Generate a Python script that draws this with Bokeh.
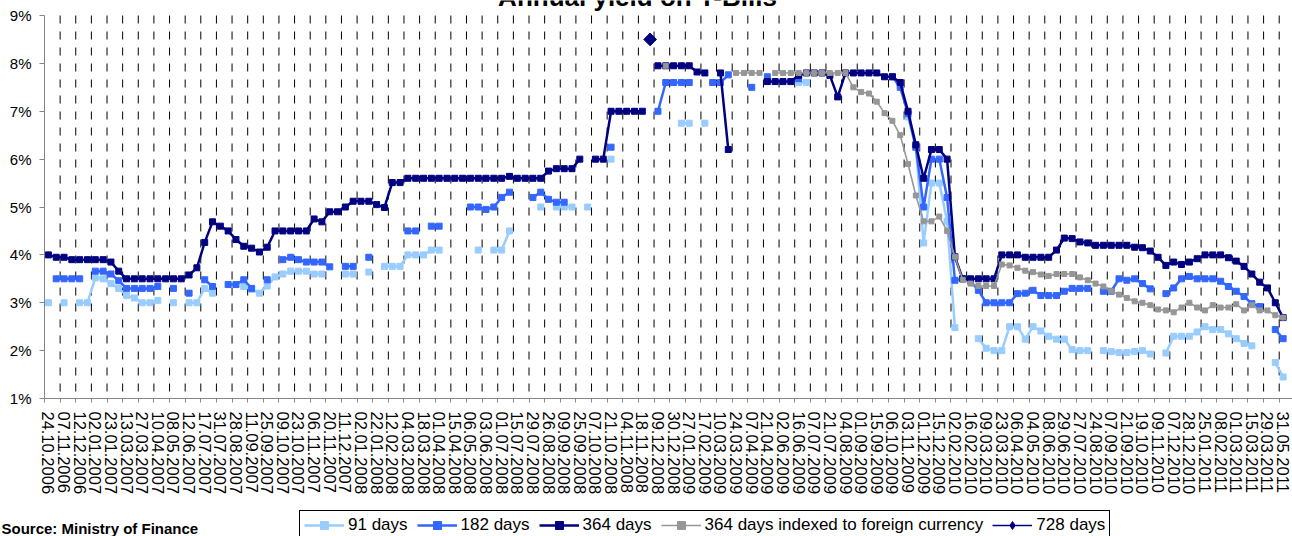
import numpy as np
from bokeh.plotting import figure
from bokeh.layouts import column
from bokeh.models import (Range1d, FixedTicker, Legend, LegendItem, Label,
                          PrintfTickFormatter, ColumnDataSource)
from bokeh.embed import file_html
from bokeh.resources import INLINE

# ---------------- data ----------------
tick_labels = [
    "24.10.2006", "07.11.2006", "12.12.2006", "02.01.2007", "23.01.2007", "13.03.2007",
    "27.03.2007", "10.04.2007", "08.05.2007", "12.06.2007", "17.07.2007", "31.07.2007",
    "28.08.2007", "11.09.2007", "25.09.2007", "09.10.2007", "23.10.2007", "06.11.2007",
    "20.11.2007", "11.12.2007", "02.01.2008", "22.01.2008", "12.02.2008", "04.03.2008",
    "18.03.2008", "01.04.2008", "15.04.2008", "06.05.2008", "03.06.2008", "01.07.2008",
    "15.07.2008", "29.07.2008", "26.08.2008", "09.09.2008", "25.09.2008", "07.10.2008",
    "21.10.2008", "04.11.2008", "18.11.2008", "09.12.2008", "30.12.2008", "27.01.2009",
    "17.02.2009", "10.03.2009", "24.03.2009", "07.04.2009", "21.04.2009", "02.06.2009",
    "16.06.2009", "07.07.2009", "21.07.2009", "04.08.2009", "01.09.2009", "15.09.2009",
    "06.10.2009", "03.11.2009", "01.12.2009", "15.12.2009", "02.02.2010", "16.02.2010",
    "09.03.2010", "23.03.2010", "06.04.2010", "04.05.2010", "08.06.2010", "29.06.2010",
    "27.07.2010", "24.08.2010", "07.09.2010", "21.09.2010", "19.10.2010", "09.11.2010",
    "07.12.2010", "28.12.2010", "25.01.2011", "08.02.2011", "01.03.2011", "15.03.2011",
    "29.03.2011", "31.05.2011",
]

t91 = [
    3.0, None, 3.0, None, 3.0, 3.0, 3.52, 3.5, 3.4, 3.3,
    3.15, 3.1, 3.0, 3.0, 3.05, None, 3.0, None, 3.0, 3.0,
    3.3, 3.2, None, None, None, 3.34, 3.28, 3.2, 3.35, 3.54,
    3.6, 3.66, 3.66, 3.66, 3.6, 3.6, None, None, 3.6, 3.6,
    None, 3.64, None, 3.76, 3.76, 3.76, 4.0, 4.0, 4.0, 4.1,
    4.1, None, None, None, None, 4.1, None, 4.1, 4.1, 4.5,
    None, None, None, 5.0, None, 5.0, 5.0, 5.0, None, 5.0,
    None, None, 6.0, None, None, None, None, None, None, None,
    None, 6.75, 6.75, None, 6.75, None, None, None, None, None,
    None, None, None, None, None, None, 7.6, 7.6, None, None,
    None, None, None, None, None, None, None, None, None, None,
    6.88, 6.25, 4.25, 5.5, 5.5, 4.7, 2.48, None, None, 2.25,
    2.05, 2.0, 2.0, 2.5, 2.5, 2.24, 2.5, 2.41, 2.3, 2.24,
    2.24, 2.02, 2.0, 2.0, None, 2.0, 1.98, 1.96, 1.96, 1.98,
    2.0, 1.93, None, 1.95, 2.3, 2.3, 2.3, 2.39, 2.5, 2.44,
    2.44, 2.35, 2.25, 2.15, 2.1, None, None, 1.75, 1.45,
]

t182 = [
    None, 3.5, 3.5, 3.5, 3.5, None, 3.66, 3.66, 3.6, 3.46,
    3.3, 3.3, 3.3, 3.3, 3.34, None, 3.3, None, 3.2, None,
    3.48, 3.34, None, 3.38, 3.38, 3.48, 3.3, None, 3.48, None,
    3.9, 3.95, 3.9, 3.85, 3.85, 3.85, 3.75, None, 3.76, 3.76,
    None, 3.95, None, None, None, None, 4.5, 4.5, None, 4.6,
    4.6, None, None, None, 5.0, 5.0, 4.95, 5.0, 5.2, 5.31,
    None, None, 5.2, 5.31, 5.16, 5.1, 5.1, None, None, None,
    None, None, 6.25, None, None, None, None, None, 7.0, 7.6,
    7.6, 7.6, 7.6, None, None, 7.6, 7.6, 7.76, None, None,
    7.5, None, 7.72, None, None, None, 7.68, None, None, None,
    None, None, None, None, None, None, None, None, 7.72, 7.5,
    6.95, 6.25, 5.0, 6.0, 6.0, 5.2, 3.47, 3.5, 3.45, 3.26,
    3.0, 3.0, 3.0, 3.0, 3.19, 3.2, 3.26, 3.15, 3.15, 3.15,
    3.24, 3.3, 3.3, 3.3, None, 3.24, 3.24, 3.5, 3.47, 3.5,
    3.4, 3.29, None, 3.19, 3.31, 3.5, 3.55, 3.5, 3.5, 3.5,
    3.45, 3.34, 3.24, 3.13, 2.98, 2.92, None, 2.44, 2.25,
]

t364 = [
    4.0, 3.95, 3.95, 3.9, 3.9, 3.9, 3.9, 3.9, 3.85, 3.66,
    3.5, 3.5, 3.5, 3.5, 3.5, 3.5, 3.5, 3.5, 3.58, 3.73,
    4.26, 4.69, 4.6, 4.5, 4.32, 4.18, 4.14, 4.06, 4.16, 4.5,
    4.5, 4.5, 4.5, 4.5, 4.75, 4.69, 4.9, 4.9, 5.0, 5.12,
    5.12, 5.12, 5.05, 4.99, 5.51, 5.51, 5.6, 5.6, 5.6, 5.6,
    5.6, 5.6, 5.6, 5.6, 5.6, 5.6, 5.6, 5.6, 5.6, 5.64,
    5.6, 5.6, 5.6, 5.6, 5.75, 5.8, 5.8, 5.8, 6.0, None,
    6.0, 6.0, 7.0, 7.0, 7.0, 7.0, 7.0, None, 7.95, 7.95,
    7.95, 7.95, 7.95, 7.82, 7.8, None, 7.8, 6.2, None, None,
    None, None, 7.62, 7.62, 7.62, 7.62, 7.75, 7.8, 7.8, 7.8,
    7.75, 7.3, 7.8, 7.8, 7.8, 7.8, 7.8, 7.72, 7.72, 7.6,
    7.0, 6.3, 5.6, 6.2, 6.2, 6.0, 3.96, 3.5, 3.5, 3.5,
    3.5, 3.5, 4.0, 4.0, 4.0, 3.95, 3.95, 3.95, 3.95, 4.1,
    4.35, 4.34, 4.27, 4.25, 4.2, 4.2, 4.2, 4.2, 4.2, 4.16,
    4.15, 4.08, 3.95, 3.78, 3.85, 3.8, 3.85, 3.92, 4.0, 4.0,
    4.0, 3.94, 3.87, 3.76, 3.6, 3.43, 3.31, 3.0, 2.69,
]

t364fx = [None] * 79 + [
    7.95,
    None, None, None, None, None, None, None, None, 7.8, 7.8,
    7.8, 7.8, None, 7.8, 7.8, 7.8, 7.8, 7.8, 7.8, 7.8,
    7.8, 7.8, 7.8, 7.5, 7.4, 7.37, 7.2, 6.96, 6.8, 6.5,
    5.9, 5.24, 4.7, 4.7, 4.8, 4.5, 3.96, 3.48, 3.4, 3.35,
    3.35, 3.35, 3.8, 3.78, 3.73, 3.67, 3.64, 3.59, 3.56, 3.6,
    3.6, 3.6, 3.53, 3.47, 3.4, 3.34, 3.24, 3.17, 3.1, 3.03,
    3.0, 2.95, 2.86, 2.84, 2.8, 2.9, 3.0, 2.9, 2.84, 2.95,
    2.9, 2.9, 2.97, 2.84, 2.95, 2.84, 2.84, 2.74, 2.69,
]

t728_index = [77]
t728_value = [8.5]

series_names = ["91 days", "182 days", "364 days",
                "364 days indexed to foreign currency", "728 days"]
y_ticks = [1, 2, 3, 4, 5, 6, 7, 8, 9]

# ---------------- styles ----------------
FONT = "Liberation Sans"
AX = "#868686"
STYLES = [
    dict(color="#99CCFF", lw=2.5, size=6, marker="square", angle=0.0, lmarker="square", lsize=6),
    dict(color="#3366FF", lw=2.5, size=6, marker="square", angle=0.0, lmarker="square", lsize=6),
    dict(color="#000080", lw=2.5, size=6, marker="square", angle=0.0, lmarker="square", lsize=6),
    dict(color="#969696", lw=1.6, size=5, marker="square", angle=0.0, lmarker="square", lsize=5),
    dict(color="#000080", lw=1.6, size=9, marker="square", angle=np.pi / 4,
         lmarker="diamond", lsize=14),
]

N = len(t364)
xc = np.arange(N) + 0.5
Y_TOP = 9 + 15 / 47.875      # frame reaches the top of the page; axis stops at 9 %

p = figure(width=1292, height=500, output_backend="svg", toolbar_location=None,
           x_range=Range1d(0, 159.7), y_range=Range1d(1, Y_TOP), title=None,
           min_border_left=44, min_border_right=0, min_border_top=0,
           min_border_bottom=102)
p.frame_align = False
p.outline_line_color = None
p.background_fill_color = "white"
p.border_fill_color = "white"

xa = p.xaxis[0]
xa.ticker = FixedTicker(ticks=[i + 0.5 for i in range(0, N, 2)],
                        minor_ticks=[float(i) for i in range(0, N + 1, 2)])
xa.major_label_overrides = {i + 0.5: lab for i, lab in zip(range(0, N, 2), tick_labels)}
xa.major_tick_out = 0
xa.major_tick_in = 0
xa.minor_tick_out = 4
xa.minor_tick_in = 0
xa.minor_tick_line_color = AX
xa.axis_line_color = AX
xa.major_label_orientation = "vertical"
xa.major_label_text_font = FONT
xa.major_label_text_font_size = "16.5px"
xa.major_label_text_color = "black"
xa.major_label_standoff = 9

ya = p.yaxis[0]
ya.ticker = FixedTicker(ticks=y_ticks)
ya.bounds = (y_ticks[0], y_ticks[-1])
ya.formatter = PrintfTickFormatter(format="%d%%")
ya.minor_tick_line_color = None
ya.major_tick_out = 5
ya.major_tick_in = 0
ya.major_tick_line_color = AX
ya.axis_line_color = AX
ya.major_label_text_font = FONT
ya.major_label_text_font_size = "15px"
ya.major_label_text_color = "black"
ya.major_label_standoff = 8

p.grid.visible = False

# dashed vertical grid lines at every second category boundary, from 9 % down to 1 %
gx = [float(i) for i in range(2, N, 2)]
p.segment(x0=gx, y0=[y_ticks[-1]] * len(gx), x1=gx, y1=[y_ticks[0]] * len(gx),
          line_color="black", line_width=1, line_dash="8 8")


def add_series(fig, vals, st, xs=None, legend_swatch=False):
    y = np.array(vals, dtype=float)
    x = xc if xs is None else np.array(xs, dtype=float) + 0.5
    src = ColumnDataSource(dict(x=x, y=y))
    r1 = fig.line("x", "y", source=src, line_color=st["color"], line_width=st["lw"],
                  line_join="round")
    if legend_swatch:
        r2 = fig.scatter("x", "y", source=src, marker=st["lmarker"], size=st["lsize"],
                         fill_color=st["color"], line_color=st["color"])
    else:
        r2 = fig.scatter("x", "y", source=src, marker=st["marker"], size=st["size"],
                         angle=st["angle"], fill_color=st["color"], line_color=st["color"])
    return [r1, r2]


add_series(p, t91, STYLES[0])
add_series(p, t182, STYLES[1])
add_series(p, t364, STYLES[2])
add_series(p, t364fx, STYLES[3])
add_series(p, t728_value, STYLES[4], xs=t728_index)

p.add_layout(Label(x=593, y=387, x_units="screen", y_units="screen",
                   text="Annual yield on T-Bills", text_font=FONT,
                   text_font_style="bold", text_font_size="26px",
                   text_align="center", text_baseline="bottom",
                   text_color="black"))

# ---------------- footer: legend + source ----------------
foot = figure(width=1292, height=36, output_backend="svg", toolbar_location=None,
              x_range=Range1d(0, 1), y_range=Range1d(0, 1), title=None,
              x_axis_type=None, y_axis_type=None,
              min_border_left=0, min_border_right=0, min_border_top=0,
              min_border_bottom=0)
foot.frame_align = False
foot.outline_line_color = None
foot.background_fill_color = "white"
foot.border_fill_color = "white"
foot.grid.visible = False

items = []
for name, st in zip(series_names, STYLES):
    # legend swatches only: a single empty (NaN) point, nothing is drawn in the footer
    rs = add_series(foot, [np.nan], st, xs=[np.nan], legend_swatch=True)
    items.append(LegendItem(label=name, renderers=rs))

legend = Legend(items=items, location=(299, -4), orientation="horizontal",
                border_line_color="black", border_line_width=1, border_line_alpha=1,
                background_fill_color="white", background_fill_alpha=1,
                label_text_font=FONT, label_text_font_size="17px",
                label_text_color="black",
                glyph_width=40, glyph_height=20, label_height=20, label_standoff=4,
                spacing=9, padding=4, margin=0)
foot.add_layout(legend)

foot.add_layout(Label(x=1, y=0, x_units="screen", y_units="screen",
                      text="Source: Ministry of Finance", text_font=FONT,
                      text_font_style="bold", text_font_size="15px",
                      text_baseline="bottom", text_color="black"))

layout = column(p, foot, spacing=0)
open("out.html", "w").write(file_html(layout, INLINE))
